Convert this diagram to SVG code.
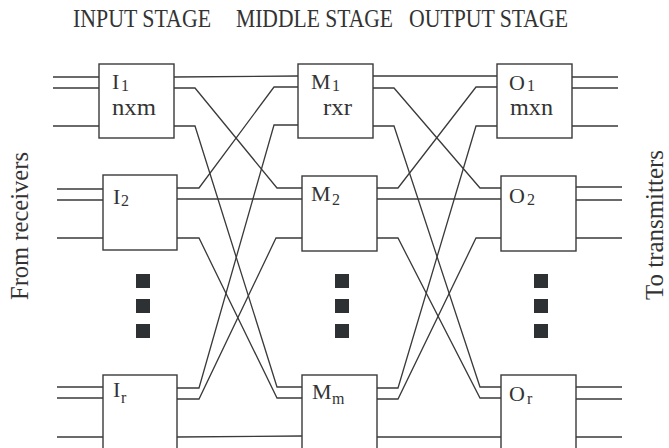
<svg xmlns="http://www.w3.org/2000/svg" width="669" height="448" viewBox="0 0 669 448">
<style>
.box{fill:#fff;stroke:#3a3a3a;stroke-width:1.4}
.ln{fill:none;stroke:#3a3a3a;stroke-width:1.3}
.t{font-family:"Liberation Serif","Times New Roman",serif;fill:#333}
.big{font-size:22px}
.sub{font-size:16px}
.lc{font-size:24px}
.ttl{font-size:25px}
.dot{fill:#2e3133}
</style>
<rect width="669" height="448" fill="#fff"/>
<g id="titles">
<text class="t ttl" x="73" y="27" textLength="138" lengthAdjust="spacingAndGlyphs">INPUT STAGE</text>
<text class="t ttl" x="236" y="27" textLength="157" lengthAdjust="spacingAndGlyphs">MIDDLE STAGE</text>
<text class="t ttl" x="409" y="27" textLength="159" lengthAdjust="spacingAndGlyphs">OUTPUT STAGE</text>
<text class="t ttl" transform="translate(28,300) rotate(-90)" x="0" y="0" font-size="25" textLength="148" lengthAdjust="spacingAndGlyphs">From receivers</text>
<text class="t ttl" transform="translate(663,300) rotate(-90)" x="0" y="0" font-size="25" textLength="150" lengthAdjust="spacingAndGlyphs">To transmitters</text>
</g>
<g id="connectors">
<path class="ln" d="M53,77H99M53,88H99M53,126H99M57,189H103M57,200H103M57,238H103M57,387H103M57,398H103M57,437H103"/>
<path class="ln" d="M572,77H618M572,88H618M572,126H618M576,187H622M576,200H622M576,238H622M576,387H622M576,399H622M576,437H622"/>
<polyline class="ln" points="174,77 298,76"/>
<polyline class="ln" points="174,88 195,88 277,188 302,188"/>
<polyline class="ln" points="174,126 195,126 277,387 302,387"/>
<polyline class="ln" points="177,188 199,188 274,87 298,87"/>
<polyline class="ln" points="177,199 302,199"/>
<polyline class="ln" points="177,238 199,238 277,398 302,398"/>
<polyline class="ln" points="177,388 199,388 274,125 298,125"/>
<polyline class="ln" points="177,399 199,399 276,238 302,238"/>
<polyline class="ln" points="177,437 302,436"/>
<polyline class="ln" points="373,76 497,76"/>
<polyline class="ln" points="373,88 394,88 480,188 501,188"/>
<polyline class="ln" points="373,126 394,126 480,387 501,387"/>
<polyline class="ln" points="377,188 398,188 476,87 497,87"/>
<polyline class="ln" points="377,199 501,199"/>
<polyline class="ln" points="377,238 398,238 480,398 501,398"/>
<polyline class="ln" points="377,388 398,388 476,126 497,126"/>
<polyline class="ln" points="377,399 398,399 476,238 501,238"/>
<polyline class="ln" points="377,437 501,437"/>
</g>
<g id="I1"><rect class="box" x="99" y="64" width="75" height="74"/>
<text class="t big" x="112" y="89">I</text><text class="t sub" x="121" y="91">1</text>
<text class="t lc" x="112" y="115" textLength="44" lengthAdjust="spacingAndGlyphs">nxm</text></g>
<g id="I2"><rect class="box" x="103" y="175" width="74" height="75"/>
<text class="t big" x="113" y="204">I</text><text class="t sub" x="121" y="206">2</text></g>
<g id="Ir"><rect class="box" x="103" y="375" width="74" height="90"/>
<text class="t big" x="113" y="397">I</text><text class="t sub" x="121" y="403">r</text></g>
<g id="M1"><rect class="box" x="298" y="64" width="75" height="74"/>
<text class="t big" x="311" y="89">M</text><text class="t sub" x="332" y="91">1</text>
<text class="t lc" x="323" y="115" textLength="29" lengthAdjust="spacingAndGlyphs">rxr</text></g>
<g id="M2"><rect class="box" x="302" y="176" width="75" height="75"/>
<text class="t big" x="311" y="201">M</text><text class="t sub" x="332" y="205">2</text></g>
<g id="Mm"><rect class="box" x="302" y="375" width="75" height="90"/>
<text class="t big" x="312" y="399">M</text><text class="t sub" x="332" y="404">m</text></g>
<g id="O1"><rect class="box" x="497" y="64" width="75" height="74"/>
<text class="t big" x="509" y="90">O</text><text class="t sub" x="527" y="91">1</text>
<text class="t lc" x="510" y="115" textLength="43" lengthAdjust="spacingAndGlyphs">mxn</text></g>
<g id="O2"><rect class="box" x="501" y="176" width="75" height="75"/>
<text class="t big" x="509" y="203">O</text><text class="t sub" x="527" y="205">2</text></g>
<g id="Or"><rect class="box" x="501" y="375" width="75" height="90"/>
<text class="t big" x="509" y="401">O</text><text class="t sub" x="527" y="404">r</text></g>
<g id="dots">
<rect class="dot" x="136" y="274" width="14" height="14"/><rect class="dot" x="136" y="299" width="14" height="14"/><rect class="dot" x="136" y="324" width="14" height="14"/>
<rect class="dot" x="335" y="274" width="14" height="14"/><rect class="dot" x="335" y="299" width="14" height="14"/><rect class="dot" x="335" y="324" width="14" height="14"/>
<rect class="dot" x="534" y="274" width="14" height="14"/><rect class="dot" x="534" y="299" width="14" height="14"/><rect class="dot" x="534" y="324" width="14" height="14"/>
</g>
</svg>
